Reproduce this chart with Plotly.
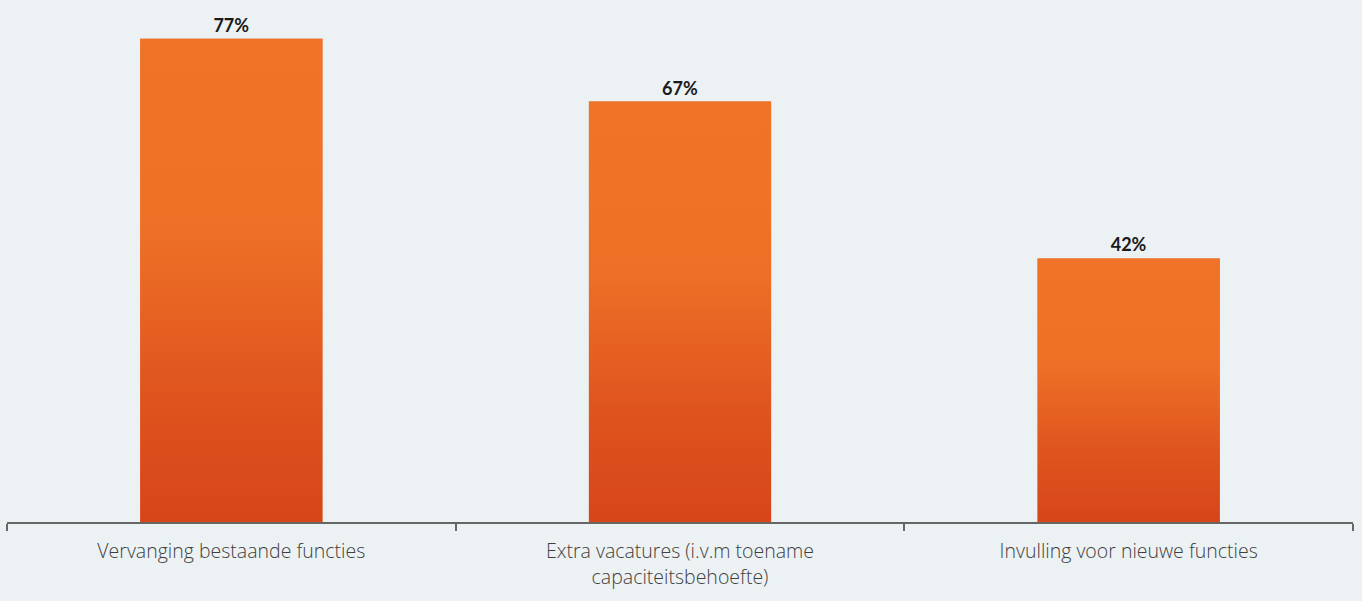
import plotly.graph_objects as go

categories = ["Vervanging bestaande functies",
              "Extra vacatures (i.v.m toename<br>capaciteitsbehoefte)",
              "Invulling voor nieuwe functies"]
values = [77, 67, 42]
labels = ["77%", "67%", "42%"]

bar_w = 0.406
pos = list(range(len(values)))

fig = go.Figure()

# base bars (solid) + value labels
fig.add_trace(go.Bar(x=pos, y=values, width=bar_w, marker_color="#E55E22",
                     marker_line_width=0, text=labels, textposition="outside",
                     cliponaxis=False,
                     textfont=dict(family="Lato", size=18, color="#1a1a1a", weight="bold"),
                     hoverinfo="skip"))

# gradient overlay for each bar
for p, v in zip(pos, values):
    fig.add_trace(go.Scatter(
        x=[p - bar_w / 2, p + bar_w / 2, p + bar_w / 2, p - bar_w / 2, p - bar_w / 2],
        y=[0, 0, v, v, 0],
        mode="lines", line=dict(width=0), fill="toself",
        fillgradient=dict(type="vertical",
                          colorscale=[[0, "#D74519"], [0.25, "#DE531E"],
                                      [0.6, "#EE7026"], [1, "#F07427"]]),
        hoverinfo="skip", showlegend=False))

fig.update_layout(
    width=1362, height=601,
    margin=dict(l=7, r=9, t=20, b=79),
    paper_bgcolor="#ECF1F4", plot_bgcolor="#ECF1F4",
    showlegend=False,
    font=dict(family="Open Sans", color="#444444"),
)
fig.update_xaxes(range=[-0.5, 2.5], tickvals=pos, ticktext=categories,
                 ticks="", showgrid=False, zeroline=False,
                 showline=True, linecolor="#666666", linewidth=2,
                 ticklabelstandoff=11,
                 tickfont=dict(family="Open Sans", size=19.5, color="#3f3f3f", weight=300),
                 minor=dict(tick0=-0.5, dtick=1, ticks="outside", ticklen=7,
                            tickcolor="#666666", tickwidth=2, showgrid=False))
fig.update_yaxes(range=[0, 80], visible=False, showgrid=False, zeroline=False)

fig.write_html("out.html", config={"displayModeBar": False},
               post_script="document.body.style.margin='0';")
